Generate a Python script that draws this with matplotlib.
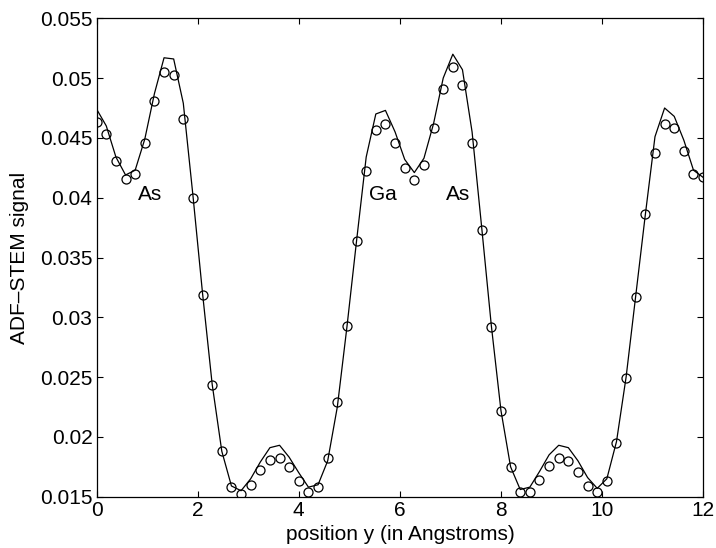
import numpy as np
import matplotlib
matplotlib.use("Agg")
import matplotlib.pyplot as plt

plt.rcParams['font.family'] = ['Liberation Sans', 'DejaVu Sans']

# sample positions (Angstrom), 64 samples across 0..12
x_pos = np.linspace(0, 12, 64)

measured = [0.0463, 0.0453, 0.0431, 0.0416, 0.0420, 0.0446, 0.0481, 0.0505, 0.0503, 0.0466,
            0.0400, 0.0319, 0.0243, 0.0188, 0.0158, 0.0152, 0.0160, 0.0172, 0.0181, 0.0182,
            0.0175, 0.0163, 0.0154, 0.0158, 0.0182, 0.0229, 0.0293, 0.0364, 0.0422, 0.0457,
            0.0462, 0.0446, 0.0425, 0.0415, 0.0427, 0.0458, 0.0491, 0.0509, 0.0494, 0.0446,
            0.0373, 0.0292, 0.0222, 0.0175, 0.0154, 0.0154, 0.0164, 0.0176, 0.0182, 0.0180,
            0.0171, 0.0159, 0.0154, 0.0163, 0.0195, 0.0249, 0.0317, 0.0386, 0.0437, 0.0462,
            0.0458, 0.0439, 0.0420, 0.0417]

simulated = [0.0474, 0.0460, 0.0434, 0.0419, 0.0423, 0.0449, 0.0487, 0.0517, 0.0516, 0.0479,
             0.0402, 0.0320, 0.0244, 0.0188, 0.0159, 0.0155, 0.0165, 0.0179, 0.0191, 0.0193,
             0.0183, 0.0170, 0.0158, 0.0160, 0.0180, 0.0225, 0.0292, 0.0364, 0.0434, 0.0470,
             0.0473, 0.0455, 0.0432, 0.0421, 0.0433, 0.0462, 0.0500, 0.0520, 0.0507, 0.0455,
             0.0375, 0.0293, 0.0222, 0.0175, 0.0156, 0.0158, 0.0171, 0.0185, 0.0193, 0.0191,
             0.0180, 0.0166, 0.0157, 0.0165, 0.0196, 0.0250, 0.0318, 0.0386, 0.0451, 0.0475,
             0.0468, 0.0448, 0.0423, 0.0417]

labels = ["As", "Ga", "As"]
label_x = [1.05, 5.66, 7.16]
label_y = [0.0403, 0.0403, 0.0403]

x_ticks = [0, 2, 4, 6, 8, 10, 12]
y_ticks = [0.015, 0.02, 0.025, 0.03, 0.035, 0.04, 0.045, 0.05, 0.055]
y_tick_labels = ["0.015", "0.02", "0.025", "0.03", "0.035", "0.04", "0.045", "0.05", "0.055"]

fig = plt.figure(figsize=(7.16, 5.48), dpi=100)
ax = fig.add_axes([0.135, 0.0936, 0.847, 0.873])

ax.plot(x_pos, simulated, color='black', linewidth=0.9)
ax.plot(x_pos, measured, linestyle='none', marker='o', markersize=6.5,
        markerfacecolor='none', markeredgecolor='black', markeredgewidth=0.9)

for t, tx, ty in zip(labels, label_x, label_y):
    ax.text(tx, ty, t, ha='center', va='center', fontsize=15)

ax.set_xlim(0, 12)
ax.set_ylim(0.015, 0.055)
ax.set_xticks(x_ticks)
ax.set_xticklabels([str(v) for v in x_ticks])
ax.set_yticks(y_ticks)
ax.set_yticklabels(y_tick_labels)
ax.tick_params(direction='in', top=True, right=True, length=4.5, width=0.8,
               labelsize=15, pad=3)
for s in ax.spines.values():
    s.set_linewidth(0.9)

ax.set_xlabel("position y (in Angstroms)", fontsize=15, labelpad=4)
ax.set_ylabel("ADF\u2013STEM signal", fontsize=15, labelpad=8)

fig.savefig("out.png", dpi=100)
